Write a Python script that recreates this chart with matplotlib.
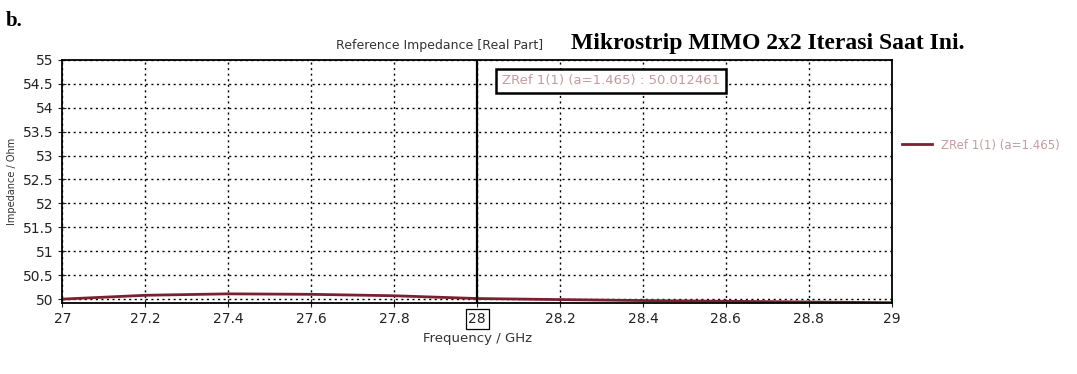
import matplotlib.pyplot as plt
import numpy as np

plt.close('all')

# ZRef 1(1) real part vs frequency
freq = [27.0, 27.2, 27.4, 27.6, 27.8, 28.0, 28.2, 28.4, 28.6, 28.8, 29.0]
zref = [50.00, 50.08, 50.11, 50.10, 50.07, 50.012, 49.99, 49.97, 49.955, 49.94, 49.925]
marker_f = 28.0
marker_val = 50.012461
xticks = [27, 27.2, 27.4, 27.6, 27.8, 28, 28.2, 28.4, 28.6, 28.8, 29]
yticks = np.arange(50, 55.01, 0.5)
ylabels = ['50', '50.5', '51', '51.5', '52', '52.5', '53', '53.5', '54', '54.5', '55']

fig = plt.figure(figsize=(10.77, 3.74), dpi=100)
ax = fig.add_axes([0.058, 0.19, 0.77, 0.65])

ax.plot(freq, zref, color='#7a2030', lw=2.0, label='ZRef 1(1) (a=1.465)')
ax.axvline(marker_f, color='black', lw=1.6)

ax.set_xlim(27, 29)
ax.set_ylim(49.92, 55)
ax.set_xticks(xticks)
ax.set_xticklabels(['27', '27.2', '27.4', '27.6', '27.8', '28', '28.2', '28.4', '28.6', '28.8', '29'])
ax.set_yticks(yticks)
ax.set_yticklabels(ylabels)
ax.tick_params(direction='inout', length=6, labelsize=10, colors='#222222')
ax.grid(True, color='black', linestyle=(0, (1.5, 2.5)), lw=1.0)
for s in ax.spines.values():
    s.set_linewidth(1.3)

# boxed marker tick label
for lab in ax.get_xticklabels():
    if lab.get_text() == '28':
        lab.set_bbox(dict(facecolor='white', edgecolor='black', lw=0.9, pad=2))

ax.set_title('Reference Impedance [Real Part]', fontsize=9, color='#333333',
             x=0.455, pad=8)
ax.set_xlabel('Frequency / GHz', fontsize=9.5, color='#333333')
ax.set_ylabel('Impedance / Ohm', fontsize=7, color='#333333')

ax.text(28.06, 54.7, f'ZRef 1(1) (a=1.465) : {marker_val:.6f}', fontsize=9.5,
        color='#c79a9e', va='top',
        bbox=dict(facecolor='white', edgecolor='black', lw=1.8, pad=4))

ax.legend(loc='upper left', bbox_to_anchor=(1.0, 0.72), frameon=False,
          fontsize=8.5, labelcolor='#c79a9e', handlelength=2.5)

# page heading above the plot
fig.text(0.005, 0.93, 'b.', fontsize=15, family='Liberation Serif', weight='bold')
fig.text(0.53, 0.87, 'Mikrostrip MIMO 2x2 Iterasi Saat Ini.', fontsize=17,
         family='Liberation Serif', weight='bold')

fig.savefig('out.png', dpi=100)
